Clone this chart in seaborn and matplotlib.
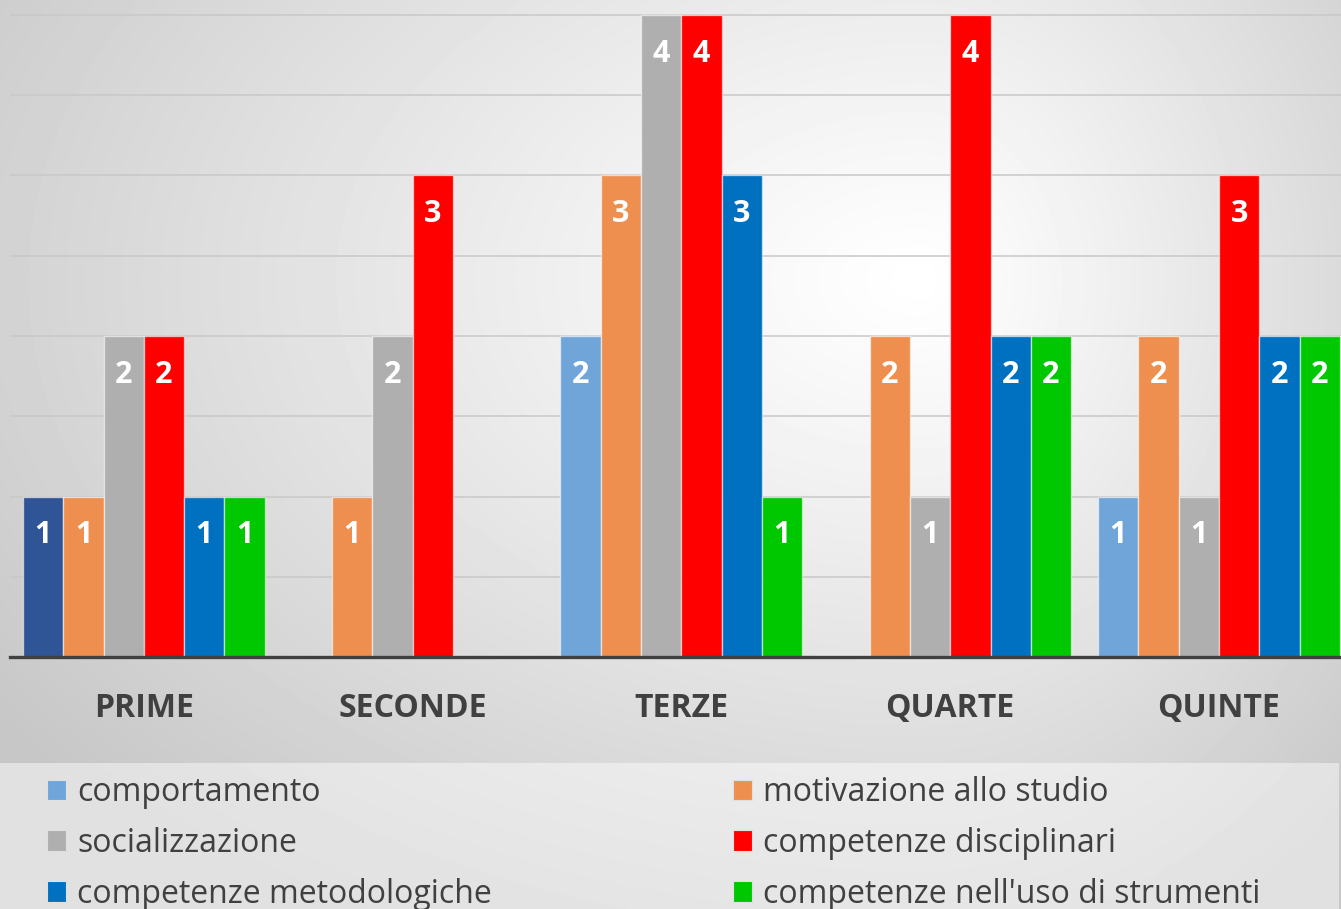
import matplotlib.pyplot as plt
import numpy as np
import pandas as pd
import seaborn as sns
from matplotlib.patches import Patch

# Data
classi = ['PRIME', 'SECONDE', 'TERZE', 'QUARTE', 'QUINTE']
aree = ['comportamento', 'motivazione allo studio', 'socializzazione',
        'competenze disciplinari', 'competenze metodologiche',
        "competenze nell'uso di strumenti"]
comportamento = [1, 0, 2, 0, 1]
motivazione = [1, 1, 3, 2, 2]
socializzazione = [2, 2, 4, 1, 1]
disciplinari = [2, 3, 4, 4, 3]
metodologiche = [1, 0, 3, 2, 2]
strumenti = [1, 0, 1, 2, 2]

colori = ['#70A5DA', '#EF8F4F', '#AFAFAF', '#FF0000', '#0070C0', '#00C800']

serie = [comportamento, motivazione, socializzazione, disciplinari, metodologiche, strumenti]
df = pd.DataFrame({
    'classe': np.repeat([classi], len(aree), axis=0).ravel(),
    'area': np.repeat(aree, len(classi)),
    'valore': np.concatenate(serie),
})

sns.set_theme(style='white')
plt.rcParams['font.family'] = ['Open Sans', 'DejaVu Sans']

W, H = 1341, 909
fig = plt.figure(figsize=(W / 100, H / 100), dpi=100)

# background: soft radial gradient + lighter legend band
bg = fig.add_axes([0, 0, 1, 1], zorder=-10)
yy, xx = np.mgrid[0:H, 0:W]
cx, cy = 920, 280
sx = np.where(xx < cx, 950, 520)
d = np.sqrt(((xx - cx) / sx) ** 2 + ((yy - cy) / 620) ** 2)
g = 1 - 0.18 * np.clip(d, 0, 1.2) ** 1.1
band = (yy >= 763) & (xx <= 1338)
g = np.where(band, 1 - 0.55 * (1 - g), g)
bg.imshow(g, cmap='gray', vmin=0, vmax=1, extent=(0, W, H, 0), aspect='auto', interpolation='bilinear')
bg.set_axis_off()

# main axes
px = 160.5  # pixels per unit
top_px = 5
ax = fig.add_axes([10 / W, 1 - 657 / H, (W - 10) / W, (657 - top_px) / H])
ax.set_facecolor('none')

sns.barplot(data=df, x='classe', y='valore', hue='area', order=classi, hue_order=aree,
            palette=colori, saturation=1, width=0.9, ax=ax, legend=False,
            edgecolor=(1, 1, 1, 0.55), linewidth=1, zorder=3)

# PRIME "comportamento" bar drawn in a darker blue in the original
ax.containers[0].patches[0].set_facecolor('#2F5597')

for cont in ax.containers:
    for p in cont.patches:
        h = p.get_height()
        if h > 0:
            ax.annotate(f'{int(h)}', (p.get_x() + p.get_width() / 2, h),
                        xytext=(0, -28), textcoords='offset points',
                        ha='center', va='center', color='white',
                        fontsize=22, fontweight='bold', zorder=5)

ax.set_xlim(-0.498, 4.454)
ax.set_ylim(0, (657 - top_px) / px)
ax.set_yticks(np.arange(0, 4.01, 0.5))
ax.yaxis.grid(True, color='#C8C8C8', linewidth=1.1, zorder=0)
ax.set_axisbelow(True)
ax.tick_params(axis='y', left=False, labelleft=False)
ax.tick_params(axis='x', bottom=False, pad=19, labelsize=23, labelcolor='#404040')
for lab in ax.get_xticklabels():
    lab.set_fontweight('bold')
ax.set_xlabel('')
ax.set_ylabel('')
for s in ['top', 'right', 'left']:
    ax.spines[s].set_visible(False)
ax.spines['bottom'].set_color('#404040')
ax.spines['bottom'].set_linewidth(2.4)
ax.spines['bottom'].set_zorder(6)

# legend in two columns
handles = [Patch(facecolor=c, edgecolor='#E0E0E0', linewidth=0.8) for c in colori]
kw = dict(frameon=False, loc='upper left', fontsize=23, labelcolor='#404040',
          handlelength=0.6, handleheight=0.6, handletextpad=0.35,
          labelspacing=0.56, borderpad=0, borderaxespad=0)
fig.legend([handles[i] for i in (0, 2, 4)], [aree[i] for i in (0, 2, 4)],
           bbox_to_anchor=(47 / W, 1 - 776 / H), **kw)
fig.legend([handles[i] for i in (1, 3, 5)], [aree[i] for i in (1, 3, 5)],
           bbox_to_anchor=(733 / W, 1 - 776 / H), **kw)

fig.savefig('out.png', dpi=100)
